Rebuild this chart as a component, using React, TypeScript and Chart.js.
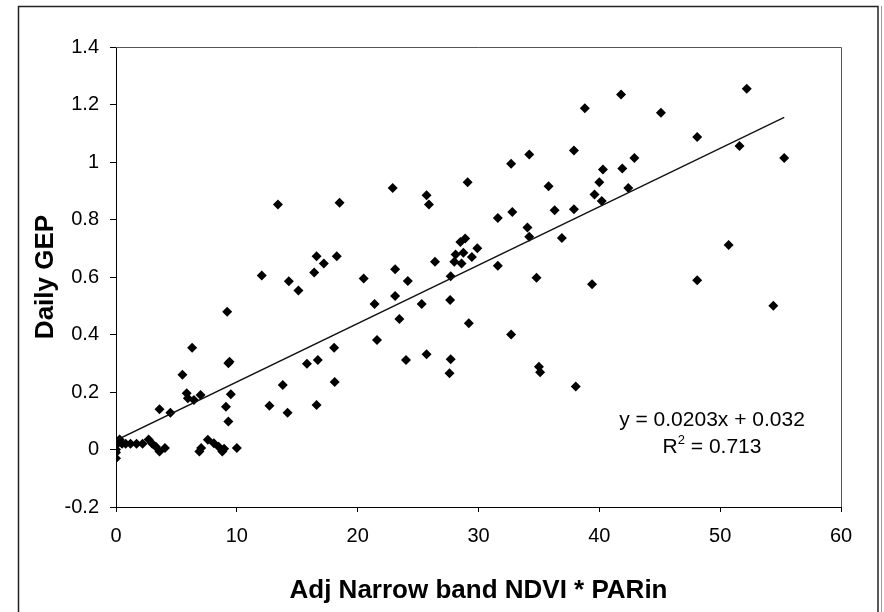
import React, { useEffect, useRef } from "react";
import { Chart, registerables } from "chart.js";

Chart.register(...registerables);

const xValues: number[] = [
  0, 0, 0, 0, 0.1, 0.3, 0.5, 0.8, 1.2, 1.7, 2.2, 2.7, 3.0, 3.3, 3.6, 4.05,
  6.9, 7.05, 7.6, 8.1, 8.5, 8.8, 8.95, 10.0,
  3.6, 4.5, 5.5, 6.3, 5.85, 5.95, 6.45, 7.0, 9.2, 9.3, 9.4, 9.5, 9.1, 9.3,
  12.7, 13.8, 14.2, 16.6, 18.1, 15.8, 16.7, 18.05,
  13.4, 18.5, 12.06, 14.3, 15.1, 16.4, 16.6, 17.2, 18.27, 20.5,
  21.4, 25.3, 27.65, 23.45, 29.2, 21.6, 24.0, 25.7, 27.7, 27.6,
  22.9, 25.7, 25.9, 29.1, 32.7, 34.2, 37.9, 35.8, 40.3, 40.0, 39.6, 40.2,
  37.9, 36.3, 32.8, 31.6, 34.05, 34.2, 36.9, 28.9, 28.5, 29.9, 28.1, 28.75,
  29.45, 28.0, 28.6, 26.4, 23.1, 24.15, 27.7, 31.6, 34.8, 39.4, 23.1, 32.7,
  38.8, 41.8, 52.2, 45.1, 48.1, 51.6, 55.3, 42.9, 41.9, 42.4, 50.7, 48.1,
  54.4, 35.0, 35.1, 38.05,
];

const yValues: number[] = [
  -0.03, -0.01, 0.0, 0.015, 0.025, 0.035, 0.02, 0.02, 0.02, 0.02, 0.02, 0.035, 0.02, 0.01, -0.007, 0.005,
  -0.007, 0.005, 0.034, 0.022, 0.01, -0.007, 0.003, 0.005,
  0.14, 0.128, 0.26, 0.354, 0.196, 0.178, 0.172, 0.19, 0.479, 0.3, 0.305, 0.192, 0.149, 0.097,
  0.152, 0.224, 0.128, 0.155, 0.235, 0.298, 0.311, 0.354,
  0.852, 0.858, 0.605, 0.585, 0.553, 0.616, 0.672, 0.647, 0.672, 0.595,
  0.506, 0.506, 0.52, 0.454, 0.439, 0.381, 0.311, 0.331, 0.314, 0.265,
  0.91, 0.884, 0.852, 0.93, 0.994, 1.026, 1.04, 0.916, 0.974, 0.93, 0.887, 0.864,
  0.836, 0.832, 0.826, 0.805, 0.772, 0.74, 0.736, 0.734, 0.722, 0.7, 0.678, 0.684,
  0.67, 0.653, 0.647, 0.653, 0.627, 0.586, 0.603, 0.639, 0.597, 0.575, 0.534, 0.4,
  1.187, 1.235, 1.255, 1.171, 1.087, 1.056, 1.014, 1.014, 0.977, 0.91, 0.711, 0.589,
  0.5, 0.288, 0.269, 0.219,
];

const trendX: number[] = [0, 55.3];
const trendY: number[] = [0.032, 1.155];

const xTitle = "Adj Narrow band NDVI * PARin";
const yTitle = "Daily GEP";
const equationText = "y = 0.0203x + 0.032";
const rSquaredValue = " = 0.713";

const FONT = "'Liberation Sans', Arial, sans-serif";

const framePlugin = {
  id: "frame",
  beforeDraw(chart: any) {
    const ctx = chart.ctx;
    ctx.save();
    ctx.fillStyle = "#ffffff";
    ctx.fillRect(0, 0, chart.width, chart.height);
    ctx.strokeStyle = "#222";
    ctx.lineWidth = 1.5;
    ctx.strokeRect(18.5, 6.5, 859.5, 700);
    ctx.strokeStyle = "#999";
    ctx.lineWidth = 1;
    ctx.beginPath();
    ctx.moveTo(881.5, 6);
    ctx.lineTo(881.5, 612);
    ctx.stroke();
    ctx.restore();
  },
  afterDatasetsDraw(chart: any) {
    const ctx = chart.ctx;
    const a = chart.chartArea;
    ctx.save();
    ctx.strokeStyle = "#555";
    ctx.lineWidth = 1;
    ctx.beginPath();
    ctx.moveTo(Math.round(a.left), Math.round(a.top) + 0.5);
    ctx.lineTo(Math.round(a.right) + 0.5, Math.round(a.top) + 0.5);
    ctx.lineTo(Math.round(a.right) + 0.5, Math.round(a.bottom));
    ctx.stroke();

    ctx.fillStyle = "#000";
    ctx.font = `21px ${FONT}`;
    ctx.textBaseline = "middle";
    ctx.textAlign = "center";
    const cx = 712;
    ctx.fillText(equationText, cx, 420);
    const rW = ctx.measureText("R").width;
    ctx.font = `13px ${FONT}`;
    const supW = ctx.measureText("2").width;
    ctx.font = `21px ${FONT}`;
    const restW = ctx.measureText(rSquaredValue).width;
    const total = rW + supW + restW;
    const x0 = cx - total / 2;
    ctx.textAlign = "left";
    ctx.fillText("R", x0, 447);
    ctx.font = `13px ${FONT}`;
    ctx.fillText("2", x0 + rW, 440);
    ctx.font = `21px ${FONT}`;
    ctx.fillText(rSquaredValue, x0 + rW + supW, 447);
    ctx.restore();
  },
};

const formatTick = (v: any) => {
  const r = Math.round(Number(v) * 10) / 10;
  return r === 0 ? "0" : String(r);
};

export default function App() {
  const canvasRef = useRef<HTMLCanvasElement | null>(null);

  useEffect(() => {
    if (!canvasRef.current) return;
    const points = xValues.map((x, i) => ({ x, y: yValues[i] }));
    const trend = trendX.map((x, i) => ({ x, y: trendY[i] }));
    const chart = new Chart(canvasRef.current, {
      type: "scatter",
      data: {
        datasets: [
          {
            label: "Daily GEP",
            data: points,
            pointStyle: "rectRot",
            pointRadius: 5,
            pointHoverRadius: 5,
            backgroundColor: "#000",
            borderColor: "#000",
            borderWidth: 0,
            order: 2,
          },
          {
            label: "Linear trend",
            data: trend,
            showLine: true,
            pointRadius: 0,
            borderColor: "#111",
            borderWidth: 1.3,
            order: 1,
          } as any,
        ],
      },
      options: {
        animation: false,
        responsive: false,
        layout: { padding: { left: 0, top: 47, right: 43, bottom: 0 } },
        plugins: {
          legend: { display: false },
          tooltip: { enabled: false },
        },
        events: [],
        scales: {
          x: {
            type: "linear",
            min: 0,
            max: 60,
            ticks: {
              stepSize: 10,
              color: "#000",
              padding: 12,
              font: { family: FONT, size: 20 },
              callback: formatTick,
            },
            grid: {
              display: true,
              drawOnChartArea: false,
              drawTicks: true,
              tickLength: 5,
              color: "#000",
            },
            border: { display: true, color: "#000", width: 1 },
            title: {
              display: true,
              text: xTitle,
              color: "#000",
              font: { family: FONT, size: 26, weight: "bold" },
              padding: { top: 0, bottom: 6 },
            },
            afterFit(scale: any) {
              scale.height = 105;
            },
          },
          y: {
            type: "linear",
            min: -0.2,
            max: 1.4,
            ticks: {
              stepSize: 0.2,
              color: "#000",
              padding: 11,
              font: { family: FONT, size: 20 },
              callback: formatTick,
            },
            grid: {
              display: true,
              drawOnChartArea: false,
              drawTicks: true,
              tickLength: 6,
              color: "#000",
            },
            border: { display: true, color: "#000", width: 1 },
            title: {
              display: true,
              text: yTitle,
              color: "#000",
              font: { family: FONT, size: 26, weight: "bold" },
              padding: { top: 30, bottom: 0 },
            },
            afterFit(scale: any) {
              scale.width = 116;
            },
          },
        },
      },
      plugins: [framePlugin],
    });
    return () => chart.destroy();
  }, []);

  return (
    <div style={{ position: "absolute", left: 0, top: 0, width: 884, height: 612 }}>
      <canvas ref={canvasRef} width={884} height={612} />
    </div>
  );
}
